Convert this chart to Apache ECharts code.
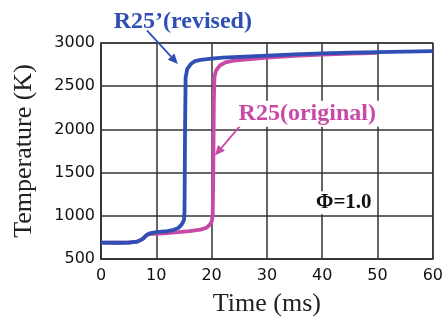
<!DOCTYPE html>
<html>
<head>
<meta charset="utf-8">
<script src="https://cdn.jsdelivr.net/npm/echarts@6/dist/echarts.min.js"></script>
<style>
  html, body { margin: 0; padding: 0; background: #fff; }
  #chart { width: 446px; height: 322px; }
</style>
</head>
<body>
<div id="chart"></div>
<script>
// Time (ms) and temperature (K) samples for the two mechanisms
const revisedTime = [0, 3, 5, 6.5, 7.5, 8.3, 9, 10, 12, 13, 14, 14.6, 15, 15.1, 15.2, 15.3, 15.6, 16.3, 17, 18, 20, 22, 25, 30, 35, 40, 45, 50, 55, 60];
const revisedTemp = [690, 688, 690, 700, 730, 780, 800, 812, 822, 835, 860, 900, 950, 1050, 2000, 2600, 2700, 2760, 2790, 2805, 2820, 2830, 2840, 2855, 2868, 2880, 2888, 2895, 2900, 2905];

const originalTime = [0, 3, 5, 6.5, 7.5, 8.3, 9, 10, 12, 14, 16, 18, 19, 19.6, 20, 20.2, 20.3, 20.4, 20.5, 20.8, 21.5, 22.5, 24, 26, 30, 35, 40, 45, 50];
const originalTemp = [690, 688, 690, 700, 730, 780, 790, 792, 800, 810, 822, 840, 860, 890, 930, 1000, 1500, 2300, 2600, 2680, 2740, 2775, 2795, 2808, 2830, 2850, 2865, 2876, 2886];

const xTicks = [0, 10, 20, 30, 40, 50, 60];
const yTicks = [500, 1000, 1500, 2000, 2500, 3000];

const revisedLabel = 'R25’(revised)';
const originalLabel = 'R25(original)';
const phiLabel = 'Φ=1.0';

const blue = '#2f4fb5';
const magenta = '#c84aa6';

const chart = echarts.init(document.getElementById('chart'));

function pairs(xs, ys) { return xs.map((x, i) => [x, ys[i]]); }

chart.setOption({
  animation: false,
  backgroundColor: '#fff',
  grid: { left: 101, right: 13, top: 43, bottom: 54, show: true, borderColor: '#555', borderWidth: 1.5 },
  xAxis: {
    type: 'value', min: xTicks[0], max: xTicks[xTicks.length - 1], interval: 10,
    name: 'Time (ms)', nameLocation: 'middle', nameGap: 32,
    nameTextStyle: { fontFamily: 'Liberation Serif', fontSize: 26, color: '#222' },
    axisLine: { show: true, lineStyle: { color: '#333', width: 1.5 } },
    axisTick: { show: false },
    axisLabel: { fontFamily: 'DejaVu Sans', fontSize: 16, color: '#111', margin: 9, formatter: v => String(v) },
    splitLine: { show: true, lineStyle: { color: '#333', width: 1.5 } }
  },
  yAxis: {
    type: 'value', min: yTicks[0], max: yTicks[yTicks.length - 1], interval: 500,
    name: 'Temperature (K)', nameLocation: 'middle', nameGap: 64,
    nameTextStyle: { fontFamily: 'Liberation Serif', fontSize: 26, color: '#222' },
    axisLine: { show: true, lineStyle: { color: '#333', width: 1.5 } },
    axisTick: { show: false },
    axisLabel: { fontFamily: 'DejaVu Sans', fontSize: 16, color: '#111', margin: 6, formatter: v => String(v) },
    splitLine: { show: true, lineStyle: { color: '#333', width: 1.5 } }
  },
  series: [
    {
      name: originalLabel, type: 'line', data: pairs(originalTime, originalTemp),
      showSymbol: false, lineStyle: { color: magenta, width: 3.8 }, z: 3
    },
    {
      name: revisedLabel, type: 'line', data: pairs(revisedTime, revisedTemp),
      showSymbol: false, lineStyle: { color: blue, width: 3.8 }, z: 4
    }
  ]
});

// Annotation labels and arrows, placed in data coordinates
const notes = [
  { text: revisedLabel, at: [14.8, 3240], color: blue, size: 24, from: [8.3, 3147], to: [13.9, 2757] },
  { text: originalLabel, at: [37.3, 2180], color: magenta, size: 24, from: [25.5, 2067], to: [20.6, 1699] },
  { text: phiLabel, at: [43.9, 1150], color: '#111', size: 21 }
];

function arrow(p0, p1, color) {
  const dx = p1[0] - p0[0], dy = p1[1] - p0[1];
  const len = Math.hypot(dx, dy), ux = dx / len, uy = dy / len;
  const hl = 10, hw = 4.5;
  const bx = p1[0] - ux * hl, by = p1[1] - uy * hl;
  return [
    { type: 'line', shape: { x1: p0[0], y1: p0[1], x2: bx, y2: by }, style: { stroke: color, lineWidth: 1.8 }, z: 20 },
    { type: 'polygon', shape: { points: [p1, [bx - uy * hw, by + ux * hw], [bx + uy * hw, by - ux * hw]] }, style: { fill: color }, z: 20 }
  ];
}

const elements = [];
notes.forEach(n => {
  const p = chart.convertToPixel({ gridIndex: 0 }, n.at);
  elements.push({
    type: 'text', x: p[0], y: p[1], z: 21,
    style: {
      text: n.text, fill: n.color, font: 'bold ' + n.size + 'px "Liberation Serif"',
      align: 'center', verticalAlign: 'middle',
      backgroundColor: n.color === blue ? null : '#fff', padding: [1, 3]
    }
  });
  if (n.from) {
    elements.push(...arrow(chart.convertToPixel({ gridIndex: 0 }, n.from), chart.convertToPixel({ gridIndex: 0 }, n.to), n.color));
  }
});
chart.setOption({ graphic: { elements } });
</script>
</body>
</html>
